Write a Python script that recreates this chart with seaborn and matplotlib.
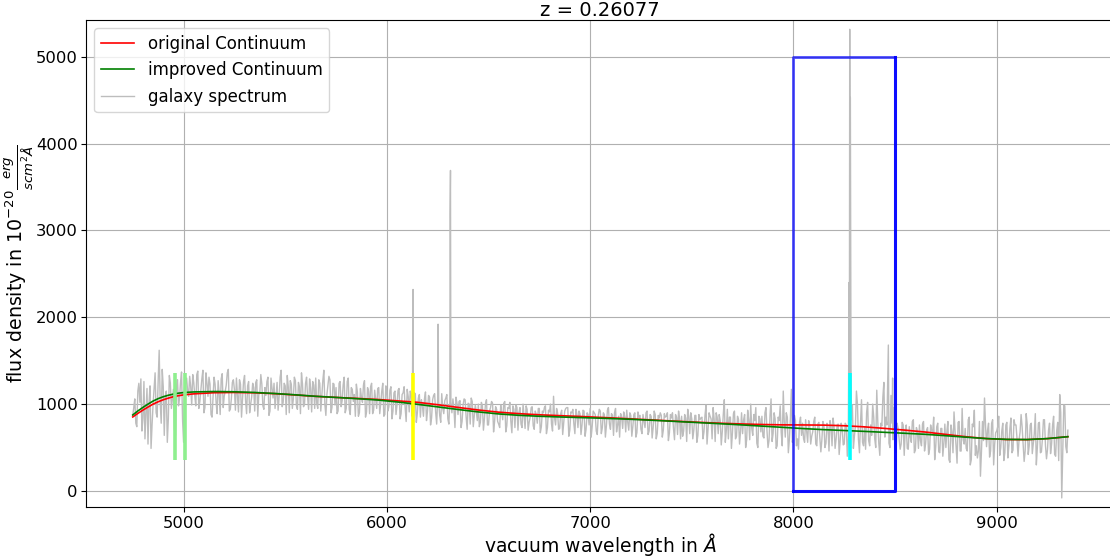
import numpy as np
import pandas as pd
import matplotlib
matplotlib.use("Agg")
import matplotlib.pyplot as plt
import seaborn as sns

# ---------------- data ----------------
# spectrum samples, on two interleaved 10-Angstrom grids
spec_start_a = 4750
spec_start_b = 4755
spec_step = 10
spec_flux_a = [
    870, 1060, 740, 1240, 1290, 830, 600, 1180, 1010, 490,
    1000, 1360, 850, 1620, 780, 1200, 1080, 560, 1330, 950,
    1170, 640, 1280, 1060, 1370, 560, 1240, 1150, 1320, 990,
    1250, 980, 1380, 1030, 1290, 900, 1360, 1090, 1230, 850,
    1310, 1020, 1270, 880, 1350, 1090, 1220, 1400, 940, 1250,
    1170, 1300, 910, 1230, 1050, 1330, 890, 1260, 1000, 1240,
    920, 1280, 1110, 1340, 980, 1190, 1260, 870, 1300, 1070,
    950, 1250, 1080, 1390, 1020, 1210, 1330, 900, 1230, 1060,
    1270, 940, 1200, 1360, 970, 1240, 1080, 1290, 910, 1220,
    1300, 950, 1240, 1090, 1390, 870, 1210, 1280, 960, 1230,
    1190, 920, 1260, 1040, 1310, 950, 1300, 880, 1170, 1110,
    1230, 860, 1180, 1020, 1270, 910, 1150, 1200, 890, 1160,
    950, 1190, 1010, 1240, 880, 1130, 970, 1200, 920, 1150,
    990, 1180, 890, 1130, 960, 1170, 910, 1100, 780, 1120,
    900, 1110, 1050, 860, 1140, 920, 1080, 840, 1100, 910,
    1060, 870, 1120, 890, 1070, 830, 1040, 900, 950, 1080,
    880, 1040, 800, 1060, 850, 1010, 770, 1030, 860, 920,
    1000, 790, 980, 830, 1050, 760, 960, 1010, 800, 940,
    770, 990, 820, 1030, 750, 950, 800, 980, 730, 960,
    910, 770, 1000, 720, 940, 790, 960, 750, 920, 780,
    950, 740, 900, 980, 730, 910, 770, 1090, 760, 900,
    720, 930, 780, 950, 960, 700, 900, 770, 940, 730,
    890, 760, 920, 710, 880, 950, 740, 900, 690, 870,
    920, 730, 880, 750, 960, 710, 870, 900, 680, 860,
    890, 720, 860, 930, 700, 870, 740, 900, 670, 850,
    710, 880, 730, 920, 690, 860, 730, 880, 660, 840,
    870, 700, 850, 900, 670, 840, 720, 880, 650, 830,
    860, 690, 840, 940, 660, 830, 700, 870, 640, 820,
    850, 680, 990, 710, 860, 600, 830, 900, 660, 810,
    680, 1050, 700, 600, 850, 670, 920, 630, 820, 690,
    660, 880, 590, 820, 1000, 640, 810, 550, 860, 680,
    630, 900, 690, 580, 1060, 660, 830, 520, 810, 670,
    1150, 620, 850, 590, 1170, 660, 810, 600, 790, 640,
    600, 820, 560, 760, 630, 800, 540, 770, 610, 590,
    760, 550, 730, 810, 520, 740, 600, 770, 580, 720,
    540, 760, 600, 680, 990, 630, 1150, 590, 780, 560,
    740, 900, 580, 760, 1000, 600, 1160, 550, 780, 1080,
    620, 760, 550, 1100, 590, 520, 780, 600, 540, 760,
    700, 490, 740, 560, 820, 470, 690, 760, 520, 800,
    540, 730, 480, 690, 850, 510, 780, 440, 720, 550,
    500, 800, 330, 680, 910, 520, 790, 460, 950, 540,
    490, 820, 300, 770, 930, 520, 460, 170, 800, 1070,
    510, 780, 460, 820, 540, 690, 860, 500, 780, 440,
    790, 520, 840, 470, 760, 600, 590, 880, 530, 460,
    770, 520, 780, 540, 890, 500, 790, 450, 820, 520,
    480, 780, 540, 860, 400, 790, 1110, -80, 990, 510,
    700,
]
spec_flux_b = [
    960, 780, 1150, 1020, 690, 1260, 880, 540, 1210, 760,
    1180, 900, 1270, 1020, 1400, 640, 1150, 830, 1240, 1060,
    710, 1190, 980, 1250, 820, 1180, 1300, 1090, 1200, 1340,
    1100, 1340, 950, 1160, 1390, 960, 1240, 1310, 880, 1090,
    1230, 890, 1120, 1290, 960, 1150, 1360, 920, 1060, 1280,
    930, 1110, 1280, 850, 1260, 1040, 1210, 900, 1080, 1190,
    1250, 860, 1130, 1230, 940, 1100, 1310, 920, 1190, 1240,
    1100, 930, 1310, 970, 1240, 880, 1200, 1270, 950, 1310,
    980, 1250, 890, 1230, 1000, 1310, 940, 1180, 1260, 950,
    1010, 1280, 920, 1270, 1000, 1110, 1320, 900, 1240, 990,
    890, 1240, 970, 1220, 900, 1260, 940, 1190, 1030, 860,
    1140, 900, 1080, 1220, 850, 1190, 890, 1240, 930, 1050,
    1180, 890, 1150, 860, 1210, 920, 1160, 830, 1130, 880,
    1160, 830, 1110, 1200, 800, 1090, 1150, 860, 1130, 790,
    1070, 850, 980, 1060, 810, 1100, 760, 1050, 1120, 770,
    1030, 790, 950, 1040, 1110, 770, 1020, 1060, 730, 1010,
    1030, 730, 990, 1050, 710, 1000, 1070, 740, 990, 810,
    740, 1020, 700, 1000, 760, 920, 1030, 680, 970, 800,
    730, 900, 1010, 680, 960, 1020, 670, 940, 990, 700,
    960, 730, 860, 980, 700, 850, 970, 710, 880, 950,
    670, 920, 960, 660, 930, 1000, 690, 840, 950, 710,
    890, 650, 920, 960, 630, 910, 940, 660, 880, 920,
    650, 930, 630, 900, 760, 620, 920, 880, 650, 940,
    660, 900, 620, 930, 770, 890, 640, 950, 760, 620,
    850, 910, 680, 790, 900, 630, 880, 620, 910, 870,
    660, 800, 900, 650, 880, 610, 920, 600, 870, 900,
    620, 890, 860, 580, 880, 900, 590, 850, 920, 600,
    630, 880, 570, 860, 900, 600, 870, 560, 880, 840,
    600, 870, 540, 900, 830, 960, 570, 850, 880, 530,
    880, 560, 940, 850, 490, 890, 600, 860, 540, 900,
    820, 500, 930, 590, 720, 880, 960, 500, 830, 860,
    610, 960, 500, 870, 570, 900, 490, 850, 980, 520,
    800, 900, 440, 830, 560, 870, 520, 480, 850, 780,
    560, 690, 810, 540, 680, 850, 520, 790, 450, 800,
    500, 780, 460, 750, 840, 490, 760, 420, 780, 530,
    780, 400, 720, 820, 490, 750, 1000, 440, 1050, 520,
    480, 1020, 520, 640, 850, 500, 800, 410, 750, 1250,
    850, 1450, 500, 780, 960, 440, 720, 480, 790, 410,
    760, 480, 620, 800, 440, 730, 490, 580, 770, 460,
    700, 420, 760, 680, 360, 740, 450, 720, 400, 770,
    690, 360, 760, 440, 700, 320, 800, 460, 590, 720,
    460, 850, 360, 740, 410, 380, 800, 450, 580, 760,
    700, 390, 780, 300, 670, 740, 410, 690, 350, 760,
    380, 720, 440, 820, 760, 400, 680, 740, 340, 890,
    420, 760, 430, 660, 300, 780, 440, 600, 820, 370,
    700, 430, 760, 420, 690, 350, 900, 480, 980, 440,
]

# narrow emission-line samples (wavelength, flux)
line_wl = [6129, 6252, 6311, 6313, 8274, 8277, 8280, 8283, 8467, 8488]
line_flux = [2320, 1920, 3200, 3690, 2400, 5315, 4530, 1500, 1680, 1300]

# continuum fits
cont_wl = [4750, 4775, 4800, 4825, 4850, 4875, 4900, 4925, 4950, 4975,
           5000, 5050, 5150, 5250, 5350, 5450, 5550, 5650,
           5750, 5850, 5950, 6050, 6150, 6250, 6350, 6450, 6550, 6650,
           6750, 6850, 6950, 7050, 7150, 7250, 7350, 7450, 7550, 7650,
           7750, 7850, 7950, 8050, 8150, 8250, 8350, 8450, 8550, 8650,
           8750, 8850, 8950, 9050, 9150, 9250, 9350]
orig_cont = [852, 893, 931, 966, 1000, 1027, 1050, 1069, 1085, 1097,
             1106, 1118, 1131, 1134, 1130, 1120, 1105, 1089,
             1077, 1066, 1054, 1038, 1021, 993, 962, 932, 907, 890,
             877, 867, 858, 847, 836, 824, 812, 800, 789, 779,
             771, 765, 761, 760, 758, 751, 738, 720, 700, 678,
             651, 624, 603, 592, 591, 603, 625]
impr_cont = [875, 921, 962, 1000, 1035, 1063, 1085, 1102, 1115, 1126,
             1133, 1140, 1145, 1142, 1134, 1122, 1107, 1090,
             1077, 1063, 1048, 1025, 998, 968, 938, 910, 887, 871,
             860, 852, 845, 838, 830, 820, 809, 797, 785, 773,
             760, 746, 732, 718, 706, 696, 686, 675, 664, 652,
             636, 619, 603, 594, 592, 603, 625]

# line markers
oiii_marks = [4959, 5007]
hb_mark = [6130]
ha_mark = [8277]
mark_lo, mark_hi = 360, 1355

# selection window
box_x = [8000, 8500]
box_y = [0, 5000]

title = "z = 0.26077"
xlabel = r"vacuum wavelength in $\AA$"
ylabel = r"flux density in $10^{-20}\frac{erg}{scm^2\AA}$"

# ---------------- build spectrum table ----------------
wl_a = spec_start_a + spec_step * np.arange(len(spec_flux_a))
wl_b = spec_start_b + spec_step * np.arange(len(spec_flux_b))
spec = pd.DataFrame({"wl": np.concatenate([wl_a, wl_b, line_wl]),
                     "flux": np.concatenate([spec_flux_a, spec_flux_b, line_flux])})
spec = spec.sort_values("wl").reset_index(drop=True)
cont = pd.DataFrame({"wl": cont_wl, "orig": orig_cont, "impr": impr_cont})

# ---------------- figure ----------------
W, H = 1110, 556
fig = plt.figure(figsize=(W / 100, H / 100), dpi=100)
ax = fig.add_axes([86 / W, (H - 507.3) / H, (1114.6 - 86) / W, (507.3 - 20) / H])

sns.lineplot(data=spec, x="wl", y="flux", ax=ax, color="#bdbdbd", lw=1.0,
             estimator=None, sort=False, label="galaxy spectrum", zorder=2)
sns.lineplot(data=cont, x="wl", y="orig", ax=ax, color="red", lw=1.2,
             estimator=None, label="original Continuum", zorder=3)
sns.lineplot(data=cont, x="wl", y="impr", ax=ax, color="green", lw=1.2,
             estimator=None, label="improved Continuum", zorder=4)

ax.vlines(oiii_marks, mark_lo, mark_hi, color="#8fef8f", lw=2.6, zorder=5)
ax.vlines(hb_mark, mark_lo, mark_hi, color="yellow", lw=2.6, zorder=5)
ax.vlines(ha_mark, mark_lo, mark_hi, color="cyan", lw=2.6, zorder=5)

# window outline
ax.plot([box_x[0], box_x[0], box_x[1]], [box_y[0], box_y[1], box_y[1]],
        color="blue", lw=2.0, alpha=0.7, zorder=6)
ax.plot([box_x[0], box_x[1], box_x[1]], [box_y[0], box_y[0], box_y[1]],
        color="blue", lw=2.2, alpha=0.95, zorder=6)

ax.set_xlim(4520, 9580)
ax.set_ylim(-188, 5422)
ax.grid(True, color="#b0b0b0", lw=0.8)
ax.set_axisbelow(True)
ax.tick_params(labelsize=11.8, pad=2.5)
ax.set_title(title, fontsize=14, pad=2.4)
ax.set_xlabel(xlabel, fontsize=13.5, labelpad=0)
ax.set_ylabel(ylabel, fontsize=13.7, labelpad=0)

handles, labels = ax.get_legend_handles_labels()
order = ["original Continuum", "improved Continuum", "galaxy spectrum"]
hmap = dict(zip(labels, handles))
ax.legend([hmap[k] for k in order], order, loc="upper left", fontsize=12)

fig.savefig("out.png", dpi=100)
